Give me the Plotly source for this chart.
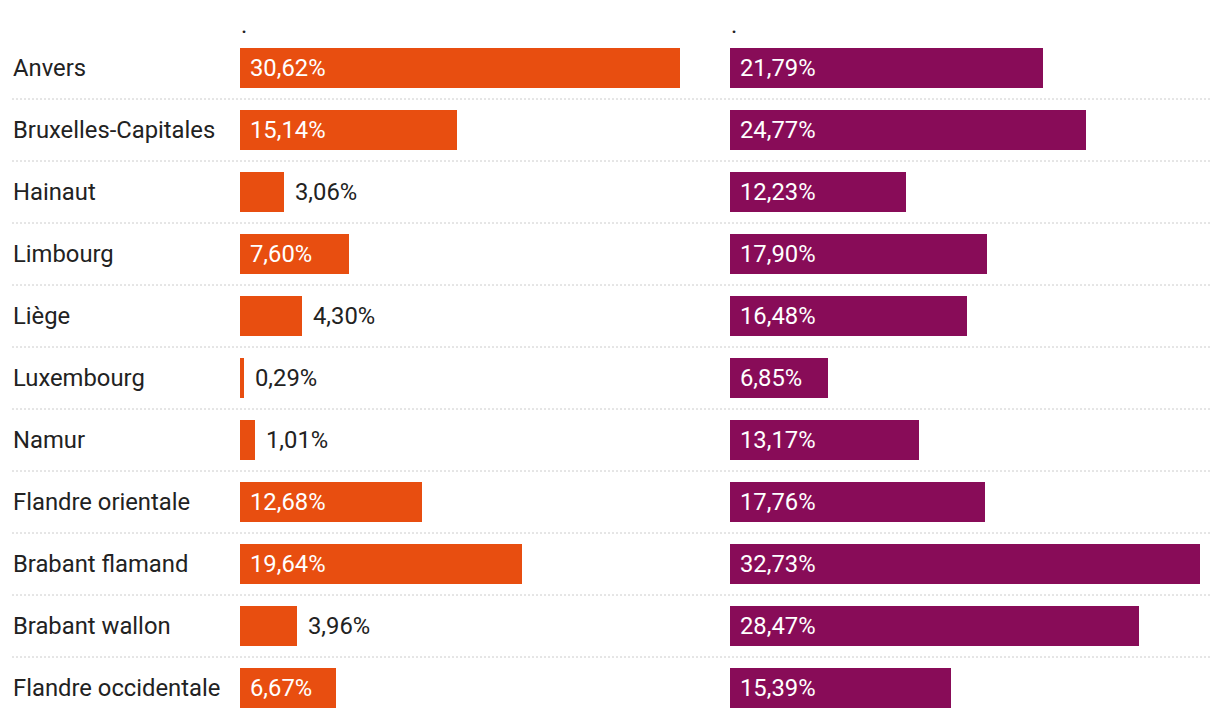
import plotly.graph_objects as go

# ---- data ----
regions = [
    "Anvers", "Bruxelles-Capitales", "Hainaut", "Limbourg", "Liège",
    "Luxembourg", "Namur", "Flandre orientale", "Brabant flamand",
    "Brabant wallon", "Flandre occidentale",
]
left_values = [30.62, 15.14, 3.06, 7.60, 4.30, 0.29, 1.01, 12.68, 19.64, 3.96, 6.67]
right_values = [21.79, 24.77, 12.23, 17.90, 16.48, 6.85, 13.17, 17.76, 32.73, 28.47, 15.39]
column_headers = [".", "."]

# ---- styling ----
W, H = 1220, 718
OFF = 8  # page body margin
ORANGE = "#E84E10"
PURPLE = "#880C58"
TEXT = "#222222"
FONT = "Roboto"
FS = 23.8
XMAX = 32.73

ys = list(range(len(regions)))
fig = go.Figure()
fig.add_trace(go.Bar(y=ys, x=left_values, orientation="h", width=0.645,
                     marker=dict(color=ORANGE, line=dict(width=0)),
                     xaxis="x", yaxis="y", hoverinfo="skip"))
fig.add_trace(go.Bar(y=ys, x=right_values, orientation="h", width=0.645,
                     marker=dict(color=PURPLE, line=dict(width=0)),
                     xaxis="x2", yaxis="y", hoverinfo="skip"))

px_per_unit = 470 / XMAX
annotations = []
shapes = []


def fmt(v):
    return f"{v:.2f}".replace(".", ",") + "%"


for xref, vals, hdr in (("x", left_values, column_headers[0]), ("x2", right_values, column_headers[1])):
    annotations.append(dict(x=0, y=-0.70, xref=xref, yref="y", text=hdr, showarrow=False,
                            xanchor="left", yanchor="middle", xshift=-1,
                            font=dict(family=FONT, size=FS, color=TEXT)))
    for i, v in enumerate(vals):
        label = fmt(v)
        if v * px_per_unit > 85:
            annotations.append(dict(x=0, y=i, xref=xref, yref="y", text=label, showarrow=False,
                                    xanchor="left", yanchor="middle", xshift=8,
                                    font=dict(family=FONT, size=FS, color="white")))
        else:
            annotations.append(dict(x=v, y=i, xref=xref, yref="y", text=label, showarrow=False,
                                    xanchor="left", yanchor="middle", xshift=9,
                                    font=dict(family=FONT, size=FS, color=TEXT)))

for i, r in enumerate(regions):
    annotations.append(dict(x=3 / W, y=i, xref="paper", yref="y", text=r, showarrow=False,
                            xanchor="left", yanchor="middle",
                            font=dict(family=FONT, size=FS, color=TEXT)))
    if i < len(regions) - 1:
        shapes.append(dict(type="line", xref="paper", yref="y", x0=4 / W, x1=1202 / W,
                           y0=i + 0.5, y1=i + 0.5,
                           line=dict(color="#cccccc", width=1, dash="2px,2px")))

top = -(68 - OFF) / 62
bottom = top + H / 62
axis_common = dict(showgrid=False, zeroline=False, showticklabels=False, showline=False,
                   range=[0, XMAX], fixedrange=True)
fig.update_layout(
    width=W, height=H,
    margin=dict(l=0, r=0, t=0, b=0),
    paper_bgcolor="white", plot_bgcolor="white",
    showlegend=False,
    xaxis=dict(domain=[(240 - OFF) / W, (710 - OFF) / W], anchor="y", **axis_common),
    xaxis2=dict(domain=[(730 - OFF) / W, (1200 - OFF) / W], anchor="y", **axis_common),
    yaxis=dict(domain=[0, 1], range=[bottom, top], showgrid=False, zeroline=False,
               showticklabels=False, showline=False, fixedrange=True),
    annotations=annotations,
    shapes=shapes,
    font=dict(family=FONT, size=FS, color=TEXT),
    bargap=0,
)

fig.write_html("out.html", config={"displayModeBar": False})
